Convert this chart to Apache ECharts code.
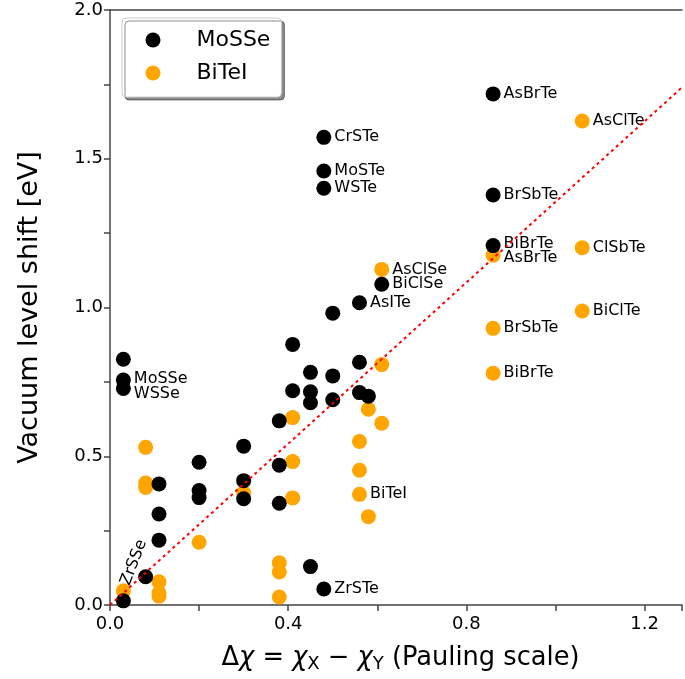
<!DOCTYPE html>
<html>
<head>
<meta charset="utf-8">
<script src="https://cdn.jsdelivr.net/npm/echarts@6/dist/echarts.min.js"></script>
<style>
  html, body { margin: 0; padding: 0; background: #fff; }
  #chart { width: 685px; height: 679px; }
</style>
</head>
<body>
<div id="chart"></div>
<script>
// Janus MoSSe-type monolayers: electronegativity difference vs. vacuum level shift
const mosseX = [0.03, 0.03, 0.03, 0.03, 0.08, 0.11, 0.11, 0.11, 0.2, 0.2, 0.2,
  0.3, 0.3, 0.3, 0.38, 0.38, 0.38, 0.41, 0.41, 0.45, 0.45, 0.45, 0.45,
  0.48, 0.48, 0.48, 0.48, 0.5, 0.5, 0.5, 0.56, 0.56, 0.56, 0.58, 0.61,
  0.86, 0.86, 0.86];
const mosseY = [0.826, 0.756, 0.728, 0.014, 0.095, 0.407, 0.306, 0.218, 0.480, 0.385, 0.361,
  0.534, 0.418, 0.357, 0.619, 0.470, 0.342, 0.876, 0.720, 0.782, 0.717, 0.680, 0.129,
  1.572, 1.459, 1.401, 0.054, 0.981, 0.770, 0.690, 1.016, 0.816, 0.714, 0.702, 1.078,
  1.718, 1.378, 1.208];
const mosseNames = ['', 'MoSSe', 'WSSe', 'ZrSSe', '', '', '', '', '', '', '',
  '', '', '', '', '', '', '', '', '', '', '', '',
  'CrSTe', 'MoSTe', 'WSTe', 'ZrSTe', '', '', '', 'AsITe', '', '', '', 'BiClSe',
  'AsBrTe', 'BrSbTe', 'BiBrTe'];

// BiTeI-type monolayers
const biteiX = [0.03, 0.08, 0.08, 0.08, 0.11, 0.11, 0.11, 0.2, 0.3, 0.38, 0.38, 0.38,
  0.41, 0.41, 0.41, 0.56, 0.56, 0.56, 0.58, 0.58, 0.61, 0.61, 0.61,
  0.86, 0.86, 0.86, 1.06, 1.06, 1.06];
const biteiY = [0.048, 0.530, 0.410, 0.395, 0.078, 0.040, 0.030, 0.211, 0.377, 0.142, 0.111, 0.027,
  0.630, 0.482, 0.360, 0.550, 0.453, 0.372, 0.658, 0.297, 1.128, 0.808, 0.611,
  1.176, 0.930, 0.779, 1.627, 1.201, 0.988];
const biteiNames = ['', '', '', '', '', '', '', '', '', '', '', '',
  '', '', '', '', '', 'BiTeI', '', '', 'AsClSe', '', '',
  'AsBrTe', 'BrSbTe', 'BiBrTe', 'AsClTe', 'ClSbTe', 'BiClTe'];

const seriesNames = ['MoSSe', 'BiTeI'];
const xTickLabels = ['0.0', '0.4', '0.8', '1.2'];
const yTickLabels = ['0.0', '0.5', '1.0', '1.5', '2.0'];

// linear trend through the origin
const fitSlope = 1.355;

const FONT = 'DejaVu Sans';
const X_MAX = 1.284;

// per-label nudges so neighbouring names do not collide
const labelTweaks = {
  'MoSSe@MoSSe': { offset: [0, -1] },
  'MoSSe@WSSe': { offset: [0, 5] },
  'MoSSe@BiBrTe': { offset: [0, -2] },
  'BiTeI@AsBrTe': { offset: [0, 3] },
  'MoSSe@ZrSSe': { position: [9.5, -8.5], rotate: 69, align: 'left', verticalAlign: 'middle', distance: 0 }
};

function buildData(series, xs, ys, names) {
  return xs.map((x, i) => {
    const item = { value: [x, ys[i]] };
    if (names[i]) {
      const tw = labelTweaks[series + '@' + names[i]] || {};
      item.label = Object.assign({
        show: true,
        formatter: names[i],
        position: 'right',
        distance: 3,
        color: '#000',
        fontFamily: FONT,
        fontSize: 16
      }, tw);
    }
    return item;
  });
}

function isMultiple(v, step) {
  const r = v / step;
  return Math.abs(r - Math.round(r)) < 1e-6;
}

const axisLineStyle = { color: '#444', width: 1.5 };

const chart = echarts.init(document.getElementById('chart'), null, { renderer: 'canvas' });
chart.setOption({
  animation: false,
  backgroundColor: '#fff',
  grid: { left: 110, right: 0, top: 10, bottom: 74, containLabel: false },
  legend: {
    data: seriesNames,
    orient: 'vertical',
    left: 122,
    top: 18,
    padding: [11, 11, 13, 23.5],
    itemGap: 11,
    itemWidth: 15,
    itemHeight: 15,
    textStyle: { fontFamily: FONT, fontSize: 22, color: '#000', padding: [0, 0, 0, 31] },
    backgroundColor: '#fff',
    borderColor: '#cccccc',
    borderWidth: 1,
    borderRadius: 4,
    shadowColor: 'rgba(0,0,0,0.45)',
    shadowBlur: 0,
    shadowOffsetX: 3,
    shadowOffsetY: 3
  },
  xAxis: [{
    type: 'value',
    min: 0,
    max: X_MAX,
    interval: 0.2,
    name: '{n|Δ}{it|χ}{n| = }{it|χ}{sub|X}{n| − }{it|χ}{sub|Y}{n| (Pauling scale)}',
    nameLocation: 'middle',
    nameGap: 38,
    nameTextStyle: {
      fontFamily: FONT, fontSize: 25.7, color: '#000', padding: [0, 0, 0, 9],
      rich: {
        n: { fontFamily: FONT, fontSize: 25.7, color: '#000' },
        it: { fontFamily: FONT, fontSize: 25.7, color: '#000', fontStyle: 'italic' },
        sub: { fontFamily: FONT, fontSize: 18, color: '#000', padding: [12, 0, 0, 0] }
      }
    },
    axisLine: { show: true, onZero: false, lineStyle: axisLineStyle },
    axisTick: { show: true, inside: false, length: 6, lineStyle: axisLineStyle },
    axisLabel: {
      margin: 10,
      fontFamily: FONT, fontSize: 18, color: '#000',
      formatter: v => {
        const s = v.toFixed(1);
        return (isMultiple(v, 0.4) && xTickLabels.includes(s)) ? s : '';
      }
    },
    splitLine: { show: false }
  }, {
    type: 'value',
    position: 'top',
    min: 0,
    max: X_MAX,
    axisLine: { show: true, onZero: false, lineStyle: axisLineStyle },
    axisTick: { show: false },
    axisLabel: { show: false },
    splitLine: { show: false }
  }],
  yAxis: {
    type: 'value',
    min: 0,
    max: 2,
    interval: 0.25,
    name: 'Vacuum level shift [eV]',
    nameLocation: 'middle',
    nameGap: 67,
    nameTextStyle: { fontFamily: FONT, fontSize: 27, color: '#000' },
    axisLine: { show: true, onZero: false, lineStyle: axisLineStyle },
    axisTick: { show: true, inside: false, length: 6, lineStyle: axisLineStyle },
    axisLabel: {
      margin: 7,
      fontFamily: FONT, fontSize: 18, color: '#000',
      formatter: v => {
        const s = v.toFixed(1);
        return (isMultiple(v, 0.5) && yTickLabels.includes(s)) ? s : '';
      }
    },
    splitLine: { show: false }
  },
  series: [{
    name: seriesNames[0],
    type: 'scatter',
    symbol: 'circle',
    symbolSize: 15,
    z: 3,
    itemStyle: { color: '#000000', opacity: 1 },
    emphasis: { disabled: true },
    data: buildData(seriesNames[0], mosseX, mosseY, mosseNames)
  }, {
    name: seriesNames[1],
    type: 'scatter',
    symbol: 'circle',
    symbolSize: 15,
    z: 2,
    itemStyle: { color: '#ffa500', opacity: 1 },
    emphasis: { disabled: true },
    data: buildData(seriesNames[1], biteiX, biteiY, biteiNames)
  }, {
    name: 'trend',
    type: 'line',
    z: 4,
    symbol: 'none',
    silent: true,
    clip: true,
    lineStyle: { color: '#ff0000', width: 2, type: [3, 3.5] },
    data: [[0, 0], [X_MAX, fitSlope * X_MAX]]
  }]
});
</script>
</body>
</html>
